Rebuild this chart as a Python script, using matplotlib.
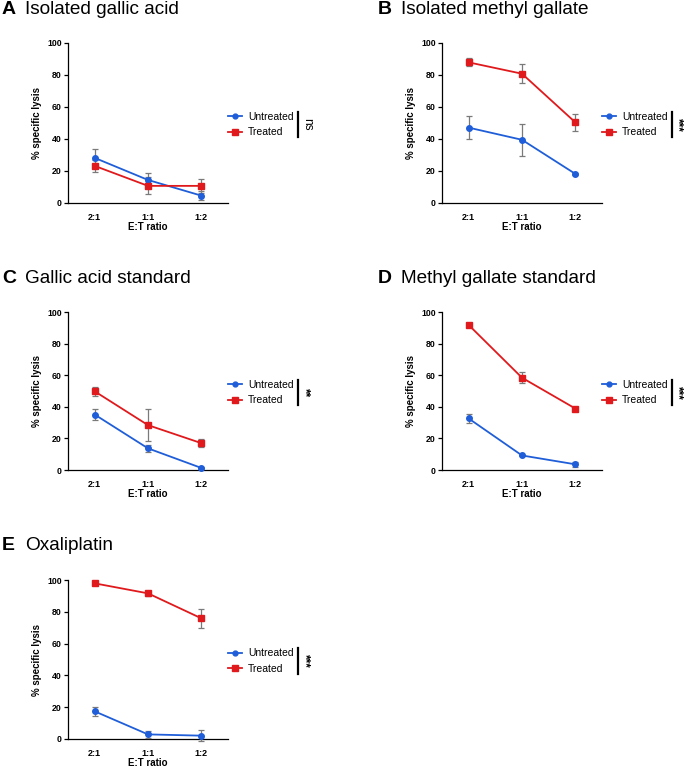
import matplotlib
matplotlib.use("Agg")
import matplotlib.pyplot as plt
from matplotlib.lines import Line2D

plt.rcParams["font.family"] = ["Liberation Sans", "DejaVu Sans"]

BLUE = "#1f5ed8"
RED = "#e0191c"
GREY = "#7a7a7a"

RATIOS = ["2:1", "1:1", "1:2"]

PANEL_LETTERS = ["A", "B", "C", "D", "E"]
PANEL_TITLES = [
    "Isolated gallic acid",
    "Isolated methyl gallate",
    "Gallic acid standard",
    "Methyl gallate standard",
    "Oxaliplatin",
]
SIGNIF = ["ns", "***", "**", "***", "***"]

untreated_mean = [
    [28.2, 14.4, 4.6],
    [47.1, 39.5, 18.2],
    [35.1, 13.7, 1.3],
    [32.6, 9.2, 3.6],
    [17.4, 2.9, 2.1],
]
untreated_err = [
    [5.3, 4.4, 3.0],
    [7.0, 10.0, 0.8],
    [3.3, 2.0, 0.5],
    [3.0, 0.6, 1.5],
    [3.0, 2.0, 3.3],
]
treated_mean = [
    [23.2, 10.7, 10.7],
    [87.9, 80.8, 50.4],
    [49.8, 28.4, 17.0],
    [91.8, 58.4, 38.9],
    [97.9, 91.6, 75.9],
]
treated_err = [
    [3.8, 5.3, 4.2],
    [2.5, 6.0, 5.5],
    [3.0, 10.0, 2.5],
    [1.0, 3.5, 0.5],
    [0.5, 1.5, 5.8],
]

W, H = 685, 768
# left edge of each column and top/bottom of each row, in pixels
COL_X = [68, 442]
ROW_Y = [(43, 203), (312, 470), (580, 739)]
AX_W = 160

fig = plt.figure(figsize=(W / 100, H / 100), dpi=100)

legend_handles = [
    Line2D([], [], color=BLUE, marker="o", markersize=3.5, linewidth=1.3),
    Line2D([], [], color=RED, marker="s", markersize=3.8, linewidth=1.3),
]

for i in range(5):
    col, row = i % 2, i // 2
    top, bottom = ROW_Y[row]
    ax = fig.add_axes([COL_X[col] / W, 1 - bottom / H, AX_W / W, (bottom - top) / H])
    x = list(range(len(RATIOS)))

    ax.errorbar(x, untreated_mean[i], yerr=untreated_err[i], color=BLUE, ecolor=GREY,
                elinewidth=0.9, capsize=2.2, capthick=0.9, marker="o", markersize=4,
                linewidth=1.3, clip_on=False, zorder=3)
    ax.errorbar(x, treated_mean[i], yerr=treated_err[i], color=RED, ecolor=GREY,
                elinewidth=0.9, capsize=2.2, capthick=0.9, marker="s", markersize=4.3,
                linewidth=1.3, clip_on=False, zorder=3)

    ax.set_xlim(-0.5, 2.5)
    ax.set_ylim(0, 100)
    ax.set_yticks([0, 20, 40, 60, 80, 100])
    ax.set_xticks(x)
    ax.set_xticklabels(RATIOS)
    ax.spines[["top", "right"]].set_visible(False)
    for side in ("left", "bottom"):
        ax.spines[side].set_linewidth(0.9)
    ax.tick_params(axis="y", length=3, width=0.9, labelsize=6.3, pad=1.5)
    ax.tick_params(axis="x", length=0, labelsize=6.5, pad=7)
    for lab in ax.get_xticklabels() + ax.get_yticklabels():
        lab.set_fontweight("bold")
    ax.set_ylabel("% specific lysis", fontsize=7, fontweight="bold", labelpad=4)
    ax.set_xlabel("E:T ratio", fontsize=7, fontweight="bold", labelpad=0)

    ax.legend(legend_handles, ["Untreated", "Treated"], loc="center left",
              bbox_to_anchor=(1.0, 0.49), frameon=False, fontsize=7.5,
              handlelength=1.35, handletextpad=0.6, borderpad=0,
              borderaxespad=0, labelspacing=0.55)

    bar_x = 1.4375 if col == 0 else 1.44
    ax.plot([bar_x, bar_x], [0.41, 0.57], transform=ax.transAxes, color="black",
            linewidth=1.6, clip_on=False)
    if SIGNIF[i] == "ns":
        ax.text(bar_x + 0.055, 0.49, "ns", transform=ax.transAxes, rotation=-90,
                ha="center", va="center", fontsize=8.5)
    else:
        star_dx = 0.045 if col == 0 else 0.032
        ax.text(bar_x + star_dx, 0.49, SIGNIF[i], transform=ax.transAxes, rotation=-90,
                ha="center", va="center", fontsize=8.5, fontweight="bold")

    # panel letter and title
    title_y = 1 - (top - 34) / H
    fig.text((COL_X[col] - 66 if col == 0 else COL_X[col] - 64) / W, title_y,
             PANEL_LETTERS[i], fontsize=14, fontweight="bold", va="center")
    fig.text((COL_X[col] - 43 if col == 0 else COL_X[col] - 41) / W, title_y,
             PANEL_TITLES[i], fontsize=13.7, va="center")

fig.savefig("out.png", dpi=100, facecolor="white")
